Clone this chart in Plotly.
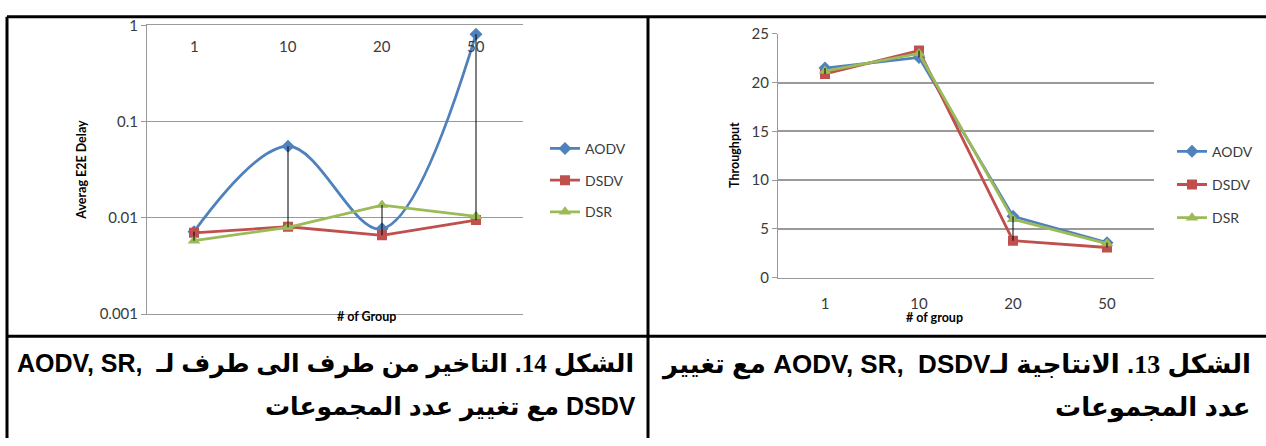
import plotly.graph_objects as go

W, H = 1266, 446

# Number of groups (categories shared by both charts)
groups = ["1", "10", "20", "50"]

# Average end-to-end delay (log scale)
delay_aodv = [0.0072, 0.0555, 0.0077, 0.81]
delay_dsdv = [0.0070, 0.0081, 0.0066, 0.0095]
delay_dsr = [0.0058, 0.0080, 0.0136, 0.0104]

# Throughput
thr_aodv = [21.5, 22.6, 6.3, 3.6]
thr_dsdv = [20.9, 23.3, 3.8, 3.1]
thr_dsr = [21.2, 23.0, 6.0, 3.5]

delay_ticks = [0.001, 0.01, 0.1, 1]
delay_ticktext = ["0.001", "0.01", "0.1", "1"]
thr_ticks = [0, 5, 10, 15, 20, 25]

BLUE, RED, GREEN = "#4F81BD", "#C0504D", "#9BBB59"
GRID = "#9a9a9a"
TXT = "#3a3a3a"
FONT = "Lato, Open Sans, sans-serif"


def px(x):
    return x / W


def py(y):
    return 1 - y / H


def high_low(series):
    xs, ys = [], []
    for i, g in enumerate(groups):
        vals = [s[i] for s in series]
        xs += [g, g, None]
        ys += [min(vals), max(vals), None]
    return xs, ys


fig = go.Figure()

series = [
    ("AODV", BLUE, "diamond", 10, delay_aodv, thr_aodv),
    ("DSDV", RED, "square", 10, delay_dsdv, thr_dsdv),
    ("DSR", GREEN, "triangle-up", 11, delay_dsr, thr_dsr),
]

for name, col, sym, size, dvals, tvals in series:
    fig.add_trace(go.Scatter(
        x=groups, y=dvals, name=name, mode="lines+markers",
        line=dict(color=col, width=2.8, shape="spline" if name == "AODV" else "linear",
                  smoothing=1.0),
        marker=dict(symbol=sym, size=size, color=col),
        xaxis="x", yaxis="y", legend="legend", legendgroup="d" + name,
    ))
for name, col, sym, size, dvals, tvals in series:
    fig.add_trace(go.Scatter(
        x=groups, y=tvals, name=name, mode="lines+markers",
        line=dict(color=col, width=2.8),
        marker=dict(symbol=sym, size=size, color=col),
        xaxis="x2", yaxis="y2", legend="legend2", legendgroup="t" + name,
    ))

hx, hy = high_low([delay_aodv, delay_dsdv, delay_dsr])
fig.add_trace(go.Scatter(x=hx, y=hy, mode="lines", line=dict(color="black", width=1),
                         showlegend=False, hoverinfo="skip", xaxis="x", yaxis="y"))
hx, hy = high_low([thr_aodv, thr_dsdv, thr_dsr])
fig.add_trace(go.Scatter(x=hx, y=hy, mode="lines", line=dict(color="black", width=1),
                         showlegend=False, hoverinfo="skip", xaxis="x2", yaxis="y2"))

fig.update_layout(
    width=W, height=H, margin=dict(l=0, r=0, t=0, b=0),
    paper_bgcolor="white", plot_bgcolor="white",
    font=dict(family=FONT, color=TXT, size=13),
    xaxis=dict(domain=[px(147), px(523)], anchor="y", type="category",
               range=[-0.5, 3.5], showticklabels=False, showline=True, mirror=True,
               linecolor=GRID, linewidth=1, showgrid=False, ticks="",
               zeroline=False),
    yaxis=dict(domain=[py(317), py(16)], anchor="x", type="log", range=[-3, 0],
               tickvals=delay_ticks, ticktext=delay_ticktext, showline=True,
               linecolor=GRID, linewidth=1, gridcolor=GRID, gridwidth=1,
               ticks="outside", ticklen=5, tickcolor=GRID,
               tickfont=dict(size=15, color=TXT), zeroline=False),
    xaxis2=dict(domain=[px(778), px(1154)], anchor="y2", type="category",
                range=[-0.5, 3.5], showline=True, linecolor=GRID, linewidth=1,
                showgrid=False, ticks="", ticklabelstandoff=12,
                tickfont=dict(size=15, color=TXT)),
    yaxis2=dict(domain=[py(279), py(25)], anchor="x2", range=[0, 25],
                tickvals=thr_ticks, showline=True, linecolor=GRID, linewidth=1,
                gridcolor=GRID, gridwidth=1.5, ticks="outside", ticklen=5,
                tickcolor=GRID, tickfont=dict(size=15, color=TXT), zeroline=False),
    legend=dict(x=px(545), y=py(128), xanchor="left", yanchor="top",
                bgcolor="rgba(0,0,0,0)", font=dict(size=14, color=TXT),
                tracegroupgap=10.5, itemwidth=30),
    legend2=dict(x=px(1172), y=py(131), xanchor="left", yanchor="top",
                 bgcolor="rgba(0,0,0,0)", font=dict(size=14, color=TXT),
                 tracegroupgap=12, itemwidth=30),
)

# Category labels of the delay chart sit inside the plot, under its top edge
for i, g in enumerate(groups):
    fig.add_annotation(text=g, x=i, y=py(38), xref="x", yref="paper",
                       showarrow=False, yanchor="middle",
                       font=dict(size=15, color=TXT, family=FONT))

# Axis titles
titles = [
    ("Averag E2E Delay", 72, 167, -90),
    ("# of Group", 335, 329, 0),
    ("Throughput", 735, 151, -90),
    ("# of group", 965, 330, 0),
]
for text, x, y, ang in titles:
    fig.add_annotation(text="<b>%s</b>" % text, x=px(x), y=py(y), xref="paper",
                       yref="paper", showarrow=False, textangle=ang,
                       font=dict(size=12.5, color="black", family=FONT))

# Table frame
frame = [
    (7, 7, W, 7), (7, 7, 7, H), (648, 7, 648, H), (7, 340, W, 340),
]
for x0, y0, x1, y1 in frame:
    fig.add_shape(type="line", xref="paper", yref="paper", x0=px(x0), y0=py(y0),
                  x1=px(x1), y1=py(y1), line=dict(color="black", width=3))

# Captions (Arabic, right-to-left)
RLE, LRE, PDF = "\u202b", "\u202a", "\u202c"
SER = "<span style=\"font-family:'Liberation Serif'\">%s</span>"
captions = [
    (RLE + "الشكل " + SER % "14" + ". التاخير من طرف الى طرف لـ\u00a0\u00a0" + LRE + "AODV, SR," + PDF + PDF, 636, 369, 25),
    (RLE + "DSDV مع تغيير عدد المجموعات" + PDF, 638, 414, 25),
    (RLE + "الشكل " + SER % "13" + ". الانتاجية لـ" + LRE + "AODV, SR,\u00a0\u00a0DSDV" + PDF + " مع تغيير" + PDF, 1253, 369, 26),
    (RLE + "عدد المجموعات" + PDF, 1253, 414, 26),
]
for text, x, y, size in captions:
    fig.add_annotation(text="<b>%s</b>" % text, x=px(x), y=py(y), xref="paper",
                       yref="paper", xanchor="right", yanchor="middle",
                       showarrow=False,
                       font=dict(size=size, color="black",
                                 family="Liberation Sans, DejaVu Sans"))

fig.write_html("out.html")
